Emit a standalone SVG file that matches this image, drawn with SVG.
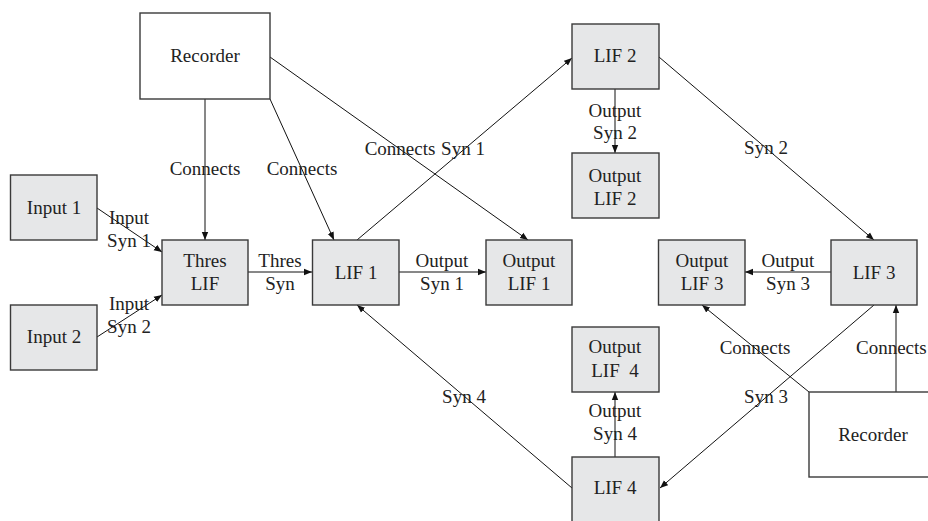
<svg xmlns="http://www.w3.org/2000/svg" width="928" height="521" viewBox="0 0 928 521">
<defs>
<marker id="ah" viewBox="0 0 10 10" refX="10" refY="5" markerWidth="8" markerHeight="8" markerUnits="userSpaceOnUse" orient="auto">
<path d="M0,1 L10,5 L0,9 Z" fill="#111"/>
</marker>
<style>
.n{fill:#e6e7e8;stroke:#3a3a3a;stroke-width:1.4}
.r{fill:#fff;stroke:#3a3a3a;stroke-width:1.4}
text{font-family:"Liberation Serif","Times New Roman",serif;font-size:19px;fill:#222;text-anchor:middle}
.c line{stroke:#111;stroke-width:1}
.a{marker-end:url(#ah)}
</style>
</defs>
<rect width="928" height="521" fill="#fff"/>
<g font-family="Liberation Serif, Times New Roman, serif">
<g class="c" id="connectors">
<line class="a" x1="205" y1="99" x2="205" y2="240"/>
<line class="a" x1="270" y1="99" x2="334" y2="240"/>
<line class="a" x1="270" y1="57" x2="528" y2="240"/>
<line class="a" x1="357" y1="240" x2="572" y2="58"/>
<line class="a" x1="97" y1="208" x2="162" y2="252"/>
<line class="a" x1="97" y1="337" x2="162" y2="295"/>
<line class="a" x1="248" y1="272" x2="312" y2="272"/>
<line class="a" x1="399" y1="272" x2="486" y2="272"/>
<line class="a" x1="615" y1="89" x2="615" y2="153"/>
<line class="a" x1="659" y1="57" x2="874" y2="240"/>
<line class="a" x1="831" y1="272" x2="745" y2="272"/>
<line class="a" x1="874" y1="305" x2="660" y2="488"/>
<line class="a" x1="809" y1="392" x2="702" y2="305"/>
<line class="a" x1="896" y1="392" x2="896" y2="305"/>
<line class="a" x1="572" y1="488" x2="357" y2="305"/>
<line class="a" x1="615" y1="457" x2="615" y2="392"/>
</g>
<g id="labels">
<text x="205" y="175">Connects</text>
<text x="302" y="175">Connects</text>
<text x="400" y="155">Connects</text>
<text x="463" y="155">Syn 1</text>
<text x="129" y="224">Input</text>
<text x="129" y="247">Syn 1</text>
<text x="129" y="310">Input</text>
<text x="129" y="333">Syn 2</text>
<text x="280" y="267">Thres</text>
<text x="280" y="290">Syn</text>
<text x="442" y="267">Output</text>
<text x="442" y="290">Syn 1</text>
<text x="615" y="117">Output</text>
<text x="615" y="139">Syn 2</text>
<text x="766" y="154">Syn 2</text>
<text x="788" y="267">Output</text>
<text x="788" y="290">Syn 3</text>
<text x="755" y="354">Connects</text>
<text x="856" y="354" style="text-anchor:start">Connects</text>
<text x="766" y="403">Syn 3</text>
<text x="464" y="403">Syn 4</text>
<text x="615" y="417">Output</text>
<text x="615" y="440">Syn 4</text>
</g>
<g id="recorder1"><rect class="r" x="140" y="13" width="130" height="86"/><text x="205" y="62">Recorder</text></g>
<g id="input1"><rect class="n" x="10.5" y="175" width="86.5" height="65"/><text x="54" y="214">Input 1</text></g>
<g id="input2"><rect class="n" x="10.5" y="305" width="86.5" height="65"/><text x="54" y="343">Input 2</text></g>
<g id="threslif"><rect class="n" x="162" y="240" width="86" height="65"/><text x="205" y="267">Thres</text><text x="205" y="290">LIF</text></g>
<g id="lif1"><rect class="n" x="312.5" y="240" width="86.5" height="65"/><text x="356" y="279">LIF 1</text></g>
<g id="outputlif1"><rect class="n" x="486" y="240" width="86" height="65"/><text x="529" y="267">Output</text><text x="529" y="290">LIF 1</text></g>
<g id="lif2"><rect class="n" x="572" y="24" width="87" height="65"/><text x="615" y="62">LIF 2</text></g>
<g id="outputlif2"><rect class="n" x="572" y="153" width="87" height="65"/><text x="615" y="182">Output</text><text x="615" y="205">LIF 2</text></g>
<g id="outputlif3"><rect class="n" x="658.5" y="240" width="86.5" height="65"/><text x="702" y="267">Output</text><text x="702" y="290">LIF 3</text></g>
<g id="lif3"><rect class="n" x="831" y="240" width="86" height="65"/><text x="874" y="279">LIF 3</text></g>
<g id="outputlif4"><rect class="n" x="572" y="327" width="87" height="65"/><text x="615" y="353">Output</text><text x="615" y="377" style="white-space:pre">LIF  4</text></g>
<g id="lif4"><rect class="n" x="572" y="457" width="87" height="66"/><text x="615" y="494">LIF 4</text></g>
<g id="recorder2"><rect class="r" x="809" y="392" width="130" height="85"/><text x="873" y="441">Recorder</text></g>
</g>
</svg>
